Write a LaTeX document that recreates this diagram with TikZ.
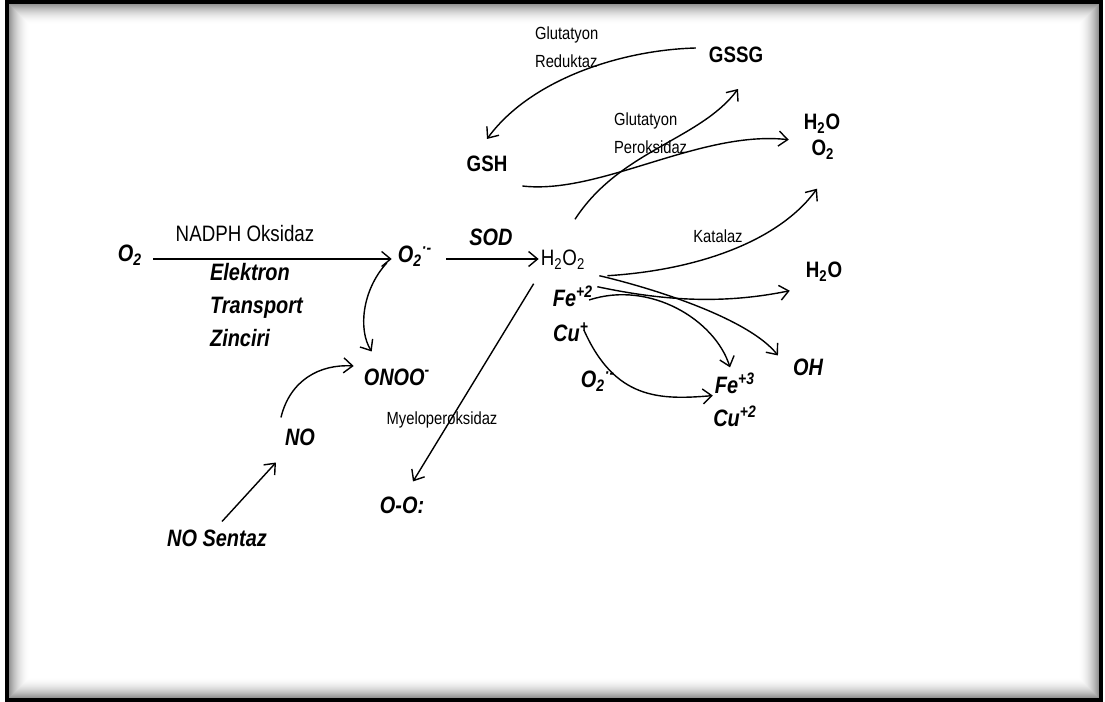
\documentclass[tikz,border=0pt]{standalone}
\usepackage{fontspec}
\setmainfont{Liberation Sans}[FakeStretch=0.84]
\usetikzlibrary{arrows.meta}

\begin{document}
\begin{tikzpicture}[x=0.02cm, y=-0.02cm,
  mol/.style={inner sep=1pt, font=\fontsize{12.7}{15}\selectfont},
  kalin/.style={mol, font=\fontsize{12.7}{15}\selectfont\bfseries},
  iyon/.style={inner sep=1pt, font=\fontsize{13.5}{16}\selectfont\bfseries\itshape},
  enzim/.style={inner sep=1pt, align=left, font=\fontsize{10}{15.9}\selectfont},
  ok/.style={-{Straight Barb[length=1.8mm,width=3mm]}, line width=0.8pt}]
  \useasboundingbox (0,0) rectangle (1105,702);
  % cerceve ve ic golge
  \foreach \i in {1,...,24}{
    \pgfmathsetmacro\k{55*(1-\i/24)^2}
    \draw[black!\k, line width=0.75pt] (7+\i,2+\i) rectangle (1101-\i,700-\i);
  }
  \draw[line width=1.8pt] (7,2) rectangle (1101,700);
  % molekuller
  \node[iyon]  (o2a)      at (130,255) {O\textsubscript{2}};
  \node[mol]   (nadph)    at (245,234) {NADPH Oksidaz};
  \node[iyon, anchor=west, align=left, font=\fontsize{13.5}{18.7}\selectfont\bfseries\itshape]
               (zincir)   at (208,305) {Elektron\\Transport\\Zinciri};
  \node[iyon]  (o2r)      at (415,256) {O\textsubscript{2}\textsuperscript{·-}};
  \node[iyon]  (sod)      at (491,237) {SOD};
  \node[mol]   (h2o2)     at (563,260) {H\textsubscript{2}O\textsubscript{2}};
  \node[kalin] (gssg)     at (736,55)  {GSSG};
  \node[kalin] (gsh)      at (487,164) {GSH};
  \node[kalin] (h2oust)   at (822,124) {H\textsubscript{2}O};
  \node[kalin] (o2ust)    at (823,150) {O\textsubscript{2}};
  \node[enzim, anchor=west] (glred) at (533,47)  {Glutatyon\\Reduktaz};
  \node[enzim, anchor=west] (glper) at (612,133) {Glutatyon\\Peroksidaz};
  \node[enzim] (katalaz)  at (718,236) {Katalaz};
  \node[kalin] (h2osag)   at (824,272) {H\textsubscript{2}O};
  \node[iyon]  (fe2)      at (573,296) {Fe\textsuperscript{+2}};
  \node[iyon]  (cu1)      at (571,332) {Cu\textsuperscript{+}};
  \node[iyon]  (oh)       at (808,367) {OH};
  \node[iyon]  (o2alt)    at (598,381) {O\textsubscript{2}\textsuperscript{·-}};
  \node[iyon]  (fe3)      at (735,383) {Fe\textsuperscript{+3}};
  \node[iyon]  (cu2)      at (735,416) {Cu\textsuperscript{+2}};
  \node[iyon]  (onoo)     at (397,377) {ONOO\textsuperscript{-}};
  \node[iyon]  (no)       at (300,437) {NO};
  \node[enzim] (myelo)    at (442,420) {Myeloperoksidaz};
  \node[iyon]  (oo)       at (402,505) {O-O:};
  \node[iyon]  (nosentaz) at (217,538) {NO Sentaz};
  % oklar
  \draw[ok] ([shift={(9,4)}]o2a.east) -- ([shift={(-4,3)}]o2r.west);
  \draw[ok] ([shift={(12,3)}]o2r.east) -- ([shift={(0,-1)}]h2o2.west);
  \draw[ok] ([shift={(-9,7)}]o2r.west) .. controls (362,290) and (358,330) .. ([shift={(10,-15)}]onoo.north west);
  \draw[ok] ([shift={(-2,-9)}]no.north west) .. controls (290,380) and (320,364) .. ([shift={(-8,-11)}]onoo.west);
  \draw[ok] ([shift={(5,-6)}]nosentaz.north) -- ([shift={(-7,15)}]no.south west);
  \draw[ok] ([shift={(-5,12)}]h2o2.south west) -- ([shift={(11,-13)}]oo.north);
  \draw[ok] ([shift={(-11,-7)}]gssg.west) .. controls (620,50) and (530,80) .. ([shift={(0,-15)}]gsh.north);
  \draw[ok] ([shift={(12,-29)}]h2o2.north) .. controls (620,150) and (700,140) .. ([shift={(2,24)}]gssg.south);
  \draw[ok] ([shift={(13,12)}]gsh.south east) .. controls (600,195) and (700,130) .. ([shift={(-13,4)}]h2oust.south west);
  \draw[ok] ([shift={(20,4)}]h2o2.south east) .. controls (700,270) and (780,240) .. ([shift={(-6,27)}]o2ust.south);
  \draw[ok] ([shift={(10,15)}]h2o2.south east) .. controls (660,300) and (720,305) .. ([shift={(-14,7)}]h2osag.south west);
  \draw[ok] ([shift={(12,4)}]h2o2.south east) .. controls (660,290) and (750,320) .. ([shift={(-13,-1)}]oh.north west);
  \draw[ok] ([shift={(-6,4)}]fe2.east) .. controls (650,280) and (715,320) .. ([shift={(-5,-3)}]fe3.north);
  \draw[ok] ([shift={(-7,-2)}]cu1.east) .. controls (615,400) and (660,400) .. (fe3.south west);
\end{tikzpicture}
\end{document}
